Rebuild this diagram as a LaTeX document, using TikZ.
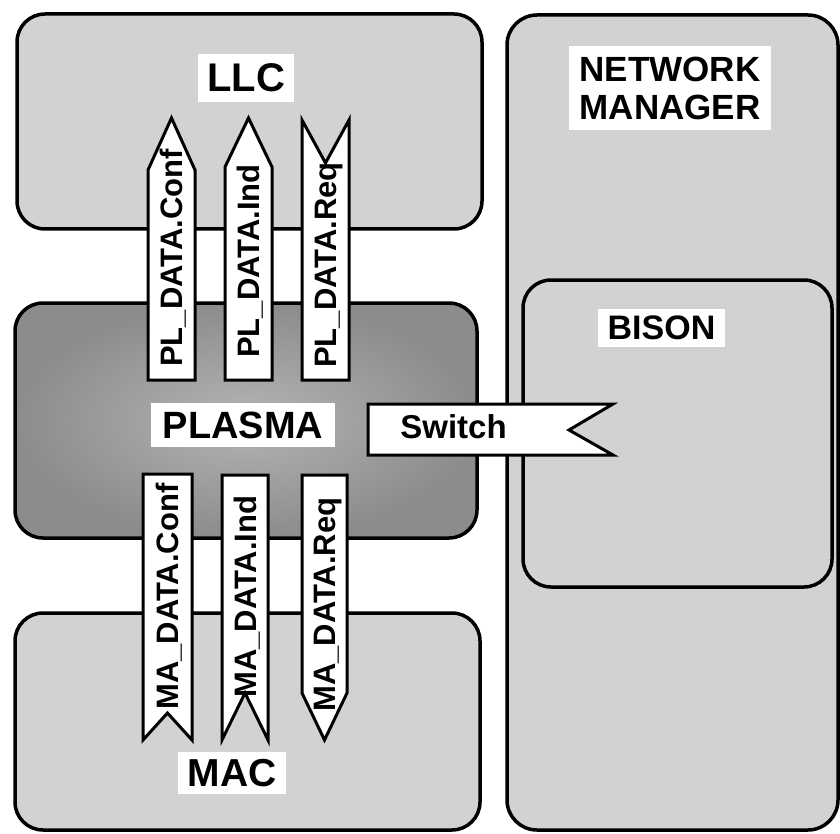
\documentclass[tikz,border=0pt]{standalone}
\usepackage{fontspec}
\setmainfont{Liberation Sans}
\usepackage{tikz}
\usetikzlibrary{shapes.geometric, arrows}
\definecolor{LAYR}{HTML}{D2D2D2}
\definecolor{PLSM}{HTML}{B4B4B4}
\definecolor{PLSMdark}{HTML}{8C8C8C}
\tikzstyle{layer} = [rectangle, rounded corners=28pt, draw=black, line width=3.5pt, fill=LAYR]
\tikzstyle{core} = [rectangle, rounded corners=28pt, draw=black, line width=3.5pt, inner color=PLSM, outer color=PLSMdark]
\tikzstyle{tag} = [rectangle, fill=white, inner xsep=10pt, inner ysep=9pt, text centered]
\tikzstyle{pipe} = [draw=black, line width=3pt, fill=white, line join=miter]
\tikzstyle{sig} = [rotate=90, anchor=base west, inner sep=0pt, font=\fontsize{31}{31}\selectfont\bfseries]

\begin{document}
\begin{tikzpicture}[x=1pt, y=-1pt]

\fill [white] (0,0) rectangle (840,834);
\useasboundingbox (0,0) rectangle (840,834);

% layers
\node (llc) [layer, minimum width=465pt, minimum height=215pt] at (249.5,121.5) {};
\node (nm) [layer, rounded corners=30pt, minimum width=331pt, minimum height=815pt] at (672.5,422.5) {};
\node (plasma) [core, minimum width=462pt, minimum height=235pt] at (246,420.5) {};
\node (bison) [layer, minimum width=309pt, minimum height=307pt] at (677.5,433.5) {};
\node (mac) [layer, minimum width=465pt, minimum height=217pt] at (247.5,721.5) {};

% names
\node (llclbl) [tag, inner xsep=9pt, inner ysep=10pt, font=\fontsize{40}{40}\selectfont\bfseries] at (246,78) {LLC};
\node (nmlbl) [tag, inner xsep=11pt, inner ysep=11pt, align=center, font=\fontsize{35}{38}\selectfont\bfseries] at (670,88) {NETWORK\\MANAGER};
\node (bisonlbl) [tag, inner ysep=7pt, font=\fontsize{34}{34}\selectfont\bfseries] at (661.5,328) {BISON};
\node (plasmalbl) [tag, inner xsep=12pt, font=\fontsize{38}{38}\selectfont\bfseries] at (243,425) {PLASMA};
\node (maclbl) [tag, inner ysep=7pt, font=\fontsize{39}{39}\selectfont\bfseries] at (232,773) {MAC};

% PL_DATA primitives
\draw [pipe] (148,380) -- (148,170) -- (171.5,118) -- (195,170) -- (195,380) -- cycle;
\draw [pipe] (225,380) -- (225,167) -- (248.5,118) -- (272,167) -- (272,380) -- cycle;
\draw [pipe] (302,380) -- (302,120) -- (325.5,163) -- (349,120) -- (349,380) -- cycle;

\node (plconf) [sig] at (182.5,367) {PL\_DATA.Conf};
\node (plind) [sig] at (259.5,358) {PL\_DATA.Ind};
\node (plreq) [sig] at (336.5,368) {PL\_DATA.Req};

% MA_DATA primitives
\draw [pipe] (143,474) -- (192,474) -- (192,740) -- (167.5,713) -- (143,740) -- cycle;
\draw [pipe] (222,475) -- (268,475) -- (268,740) -- (245,693) -- (222,740) -- cycle;
\draw [pipe] (302,475) -- (347,475) -- (347,693) -- (324.5,740) -- (302,693) -- cycle;

\node (maconf) [sig] at (178.5,710) {MA\_DATA.Conf};
\node (maind) [sig] at (256,698) {MA\_DATA.Ind};
\node (mareq) [sig] at (335.5,712) {MA\_DATA.Req};

% switch
\draw [pipe] (368,404) -- (613,404) -- (569,430) -- (613,455) -- (368,455) -- cycle;
\node (switch) [inner sep=0pt, font=\fontsize{33}{33}\selectfont\bfseries] at (453.5,427) {Switch};

\end{tikzpicture}
\end{document}
